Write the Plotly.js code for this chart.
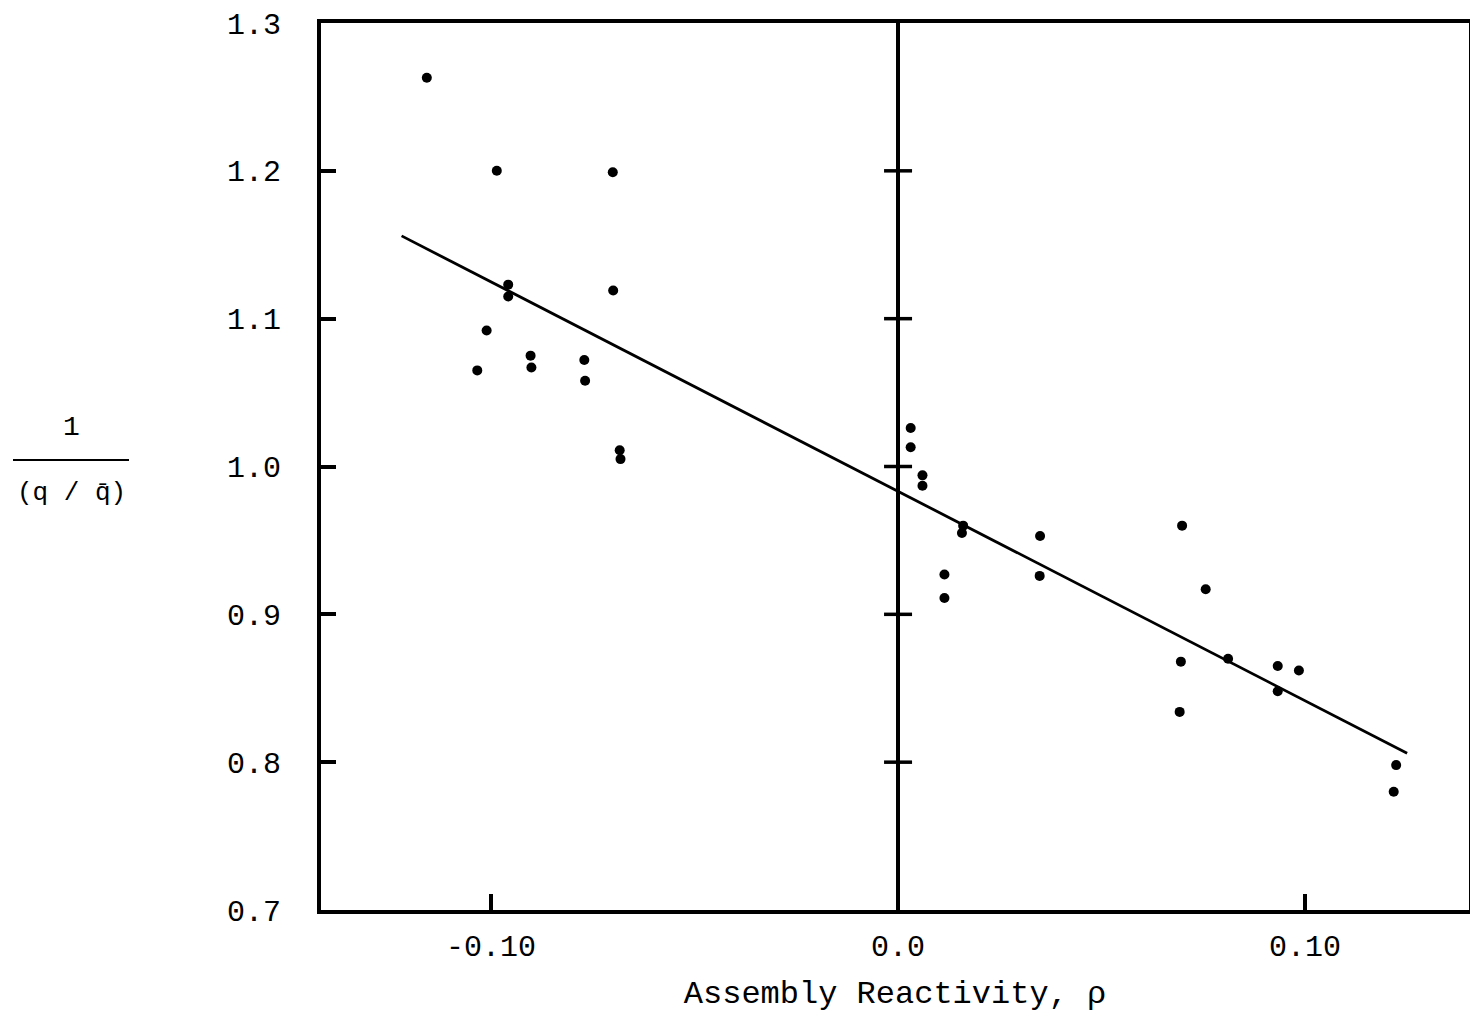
<!DOCTYPE html>
<html>
<head>
<meta charset="utf-8">
<script src="https://cdn.plot.ly/plotly-3.0.1.min.js"></script>
<style>html,body{margin:0;padding:0;background:#fff;}#chart{width:1470px;height:1013px;}</style>
</head>
<body>
<div id="chart"></div>
<script>
// Measured data: assembly reactivity (rho) vs 1/(q/qbar)
const rho = [-0.1158,-0.0986,-0.0701,-0.0958,-0.0958,-0.0700,-0.1011,-0.0903,-0.0901,-0.1034,
             -0.0771,-0.0769,-0.0684,-0.0682,
             0.0031,0.0031,0.0060,0.0060,0.0160,0.0157,0.0114,0.0114,0.0349,0.0348,
             0.0698,0.0756,0.0695,0.0692,0.0811,0.0933,0.0985,0.0933,0.1224,0.1218];
const invQ = [1.263,1.200,1.199,1.123,1.115,1.119,1.092,1.075,1.067,1.065,
              1.072,1.058,1.011,1.005,
              1.026,1.013,0.994,0.987,0.960,0.955,0.927,0.911,0.953,0.926,
              0.960,0.917,0.868,0.834,0.870,0.865,0.862,0.848,0.798,0.780];
// fitted straight line end points
const fitX = [-0.1220, 0.1251];
const fitY = [1.156, 0.806];
// tick values / labels
const xTickVals = [-0.10, 0.0, 0.10];
const xTickText = ['-0.10', '0.0', '0.10'];
const yTickVals = [0.7, 0.8, 0.9, 1.0, 1.1, 1.2, 1.3];
const yTickText = ['0.7', '0.8', '0.9', '1.0', '1.1', '1.2', '1.3'];
// cross ticks drawn on the rho = 0 line
const crossY = [0.8, 0.9, 1.0, 1.1, 1.2];

const FONT = 'Liberation Mono, DejaVu Sans Mono, monospace';

const traces = [
  {x: fitX, y: fitY, mode: 'lines', line: {color: '#000', width: 2.8}, hoverinfo: 'skip'},
  {x: crossY.map(() => 0), y: crossY, mode: 'markers',
   marker: {symbol: 'line-ew', size: 20, line: {color: '#000', width: 3.5}}, hoverinfo: 'skip'},
  {x: rho, y: invQ, mode: 'markers', marker: {color: '#000', size: 10}}
];

const L = 321, T = 23, W = 1470, H = 1013, R = 1, B = 103;
const pw = W - L - R, ph = H - T - B;
const px = v => (v - L) / pw;
const py = v => (H - B - v) / ph;

const layout = {
  width: W, height: H,
  margin: {l: L, r: R, t: T, b: B, pad: 0},
  paper_bgcolor: '#fff', plot_bgcolor: '#fff',
  showlegend: false,
  font: {family: FONT, color: '#000', size: 30},
  xaxis: {
    range: [-0.1418, 0.1403],
    tickvals: xTickVals, ticktext: xTickText,
    ticks: 'inside', ticklen: 16, tickwidth: 4, tickcolor: '#000',
    showline: true, linewidth: 4, linecolor: '#000', mirror: true,
    showgrid: false,
    zeroline: true, zerolinecolor: '#000', zerolinewidth: 4,
    tickfont: {family: FONT, size: 30, color: '#000'},
    ticklabelstandoff: 6,
    title: {text: 'Assembly Reactivity, ρ', font: {family: FONT, size: 32, color: '#000'}, standoff: 32}
  },
  yaxis: {
    range: [0.7, 1.3],
    tickvals: yTickVals, ticktext: yTickText,
    ticks: 'inside', ticklen: 15, tickwidth: 4, tickcolor: '#000',
    showline: true, linewidth: 4, linecolor: '#000', mirror: true,
    showgrid: false, zeroline: false,
    tickfont: {family: FONT, size: 30, color: '#000'},
    ticklabelstandoff: 30
  },
  shapes: [
    {type: 'line', xref: 'paper', yref: 'paper', x0: px(13), x1: px(129), y0: py(460), y1: py(460),
     line: {color: '#000', width: 2}}
  ],
  annotations: [
    {xref: 'paper', yref: 'paper', x: px(71), y: py(428), text: '1', showarrow: false,
     font: {family: FONT, size: 28, color: '#000'}, xanchor: 'center', yanchor: 'middle'},
    {xref: 'paper', yref: 'paper', x: px(71), y: py(493), text: '(q / q\u0304)', showarrow: false,
     font: {family: FONT, size: 26, color: '#000'}, xanchor: 'center', yanchor: 'middle'}
  ]
};

Plotly.newPlot('chart', traces, layout, {displayModeBar: false, staticPlot: true});
</script>
</body>
</html>
